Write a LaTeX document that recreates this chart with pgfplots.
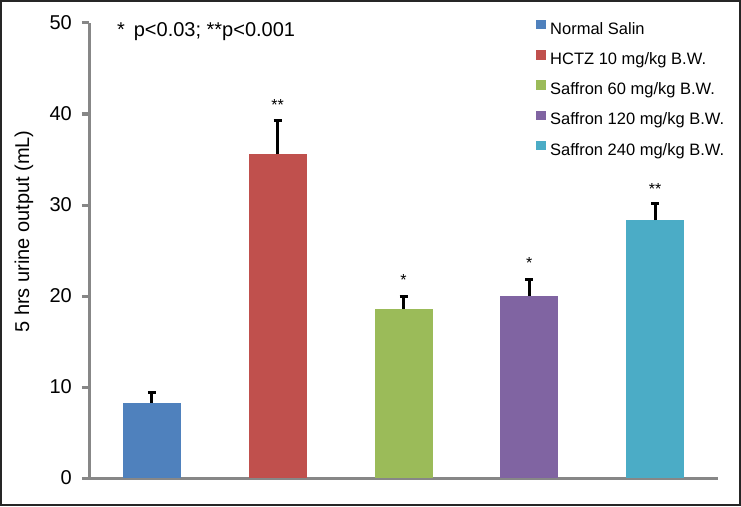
\documentclass[border=0pt]{standalone}
\usepackage{pgfplots}
\pgfplotsset{compat=1.18}
\usepackage{fontspec}
\setmainfont{Liberation Sans}
\definecolor{cA}{HTML}{4F81BD}
\definecolor{cB}{HTML}{C0504D}
\definecolor{cC}{HTML}{9BBB59}
\definecolor{cD}{HTML}{8064A2}
\definecolor{cE}{HTML}{4BACC6}
\definecolor{axgray}{HTML}{878787}
\begin{document}
\begin{tikzpicture}
\useasboundingbox (0pt,0pt) rectangle (741pt,506pt);
\draw[line width=2pt, color=black!85] (1pt,1pt) rectangle (740pt,505pt);
\begin{axis}[
  at={(89pt,28pt)}, anchor=south west,
  scale only axis, width=629pt, height=455pt,
  xmin=-0.5, xmax=4.5, ymin=0, ymax=50,
  ytick={0,10,...,50}, xtick=\empty,
  axis x line*=bottom, axis y line*=left,
  axis line style={draw=axgray, line width=3pt, -},
  ytick style={draw=axgray, line width=3pt},
  tick align=outside, major tick length=7pt,
  /pgf/number format/assume math mode=true,
  yticklabel style={font=\fontsize{20}{22}\selectfont, inner sep=0pt, anchor=east, xshift=-10pt},
  ylabel={5 hrs urine output (mL)},
  ylabel style={font=\fontsize{20}{23}\selectfont, at={(axis description cs:-0.1033,0.5418)}, anchor=center, rotate=0},
  ybar, bar width=58pt, bar shift=0pt,
  error bars/y dir=plus, error bars/y explicit,
  error bars/error bar style={black, line width=3pt},
  error bars/error mark options={black, line width=3pt, mark size=4pt, rotate=90},
  legend style={at={(axis description cs:0.7107,1.0073)}, anchor=north west, draw=none, fill=none,
    font=\fontsize{16.5}{19}\selectfont, inner sep=0pt, row sep=12pt, column sep=4.5pt,
    nodes={inner sep=0pt, text height=12pt, text depth=4pt}},
  legend cell align=left,
  legend image code/.code={\fill[#1, draw=none] (0pt,0.75pt) rectangle (9.5pt,10.25pt);},
  clip=false,
]
\addplot[fill=cA, draw=none] coordinates {(0,8.25) +- (0,1.2)};
\addlegendentry{Normal Salin}
\addplot[fill=cB, draw=none] coordinates {(1,35.6) +- (0,3.7)};
\addlegendentry{HCTZ 10 mg/kg B.W.}
\addplot[fill=cC, draw=none] coordinates {(2,18.6) +- (0,1.3)};
\addlegendentry{Saffron 60 mg/kg B.W.}
\addplot[fill=cD, draw=none] coordinates {(3,20.0) +- (0,1.8)};
\addlegendentry{Saffron 120 mg/kg B.W.}
\addplot[fill=cE, draw=none] coordinates {(4,28.35) +- (0,1.85)};
\addlegendentry{Saffron 240 mg/kg B.W.}
\node[font=\fontsize{20}{22}\selectfont, anchor=base west, inner sep=0pt] at (axis description cs:0.0445,0.970) {*\, p<0.03; **p<0.001};
\node[font=\fontsize{16}{18}\selectfont, anchor=base, inner sep=0pt] at (axis cs:1,40.4) {**};
\node[font=\fontsize{16}{18}\selectfont, anchor=base, inner sep=0pt] at (axis cs:2,21.1) {*};
\node[font=\fontsize{16}{18}\selectfont, anchor=base, inner sep=0pt] at (axis cs:3,23.0) {*};
\node[font=\fontsize{16}{18}\selectfont, anchor=base, inner sep=0pt] at (axis cs:4,31.2) {**};
\end{axis}
\end{tikzpicture}
\end{document}
